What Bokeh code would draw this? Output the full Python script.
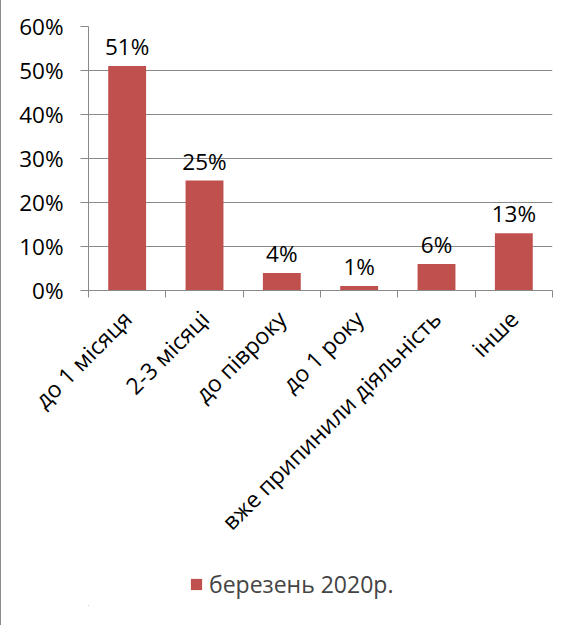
import math
from bokeh.plotting import figure
from bokeh.layouts import column
from bokeh.models import (ColumnDataSource, FixedTicker, Range1d, Legend, LegendItem,
                          NumeralTickFormatter)
from bokeh.core.properties import value
from bokeh.embed import file_html
from bokeh.resources import INLINE

categories = ["до 1 місяця", "2-3 місяці", "до півроку", "до 1 року",
              "вже припинили діяльність", "інше"]
values = [0.51, 0.25, 0.04, 0.01, 0.06, 0.13]
labels = ["51%", "25%", "4%", "1%", "6%", "13%"]
series_name = "березень 2020р."
y_ticks = [0, 0.1, 0.2, 0.3, 0.4, 0.5, 0.6]

FONT = "Open Sans"
RED = "#C0504D"
GRID = "#898989"
FS = "22.5px"
FS_CAT = "23px"

xpos = [i + 0.5 for i in range(len(categories))]
src = ColumnDataSource(dict(x=xpos, top=values, lab=labels))

p = figure(width=572, height=564, output_backend="svg", toolbar_location=None,
           x_range=Range1d(0, len(categories)), y_range=Range1d(0, 0.6),
           min_border_left=87, min_border_right=21, min_border_top=28,
           min_border_bottom=272)
p.outline_line_color = None
p.background_fill_color = "white"
p.border_fill_color = "white"

r = p.vbar(x="x", top="top", width=0.49, source=src, fill_color=RED, line_color=None)
p.text(x="x", y="top", text="lab", source=src, text_align="center",
       text_baseline="bottom", y_offset=-4, text_font=value(FONT),
       text_font_size=FS, text_color="black")

# y axis
ya = p.yaxis[0]
ya.ticker = FixedTicker(ticks=y_ticks)
ya.formatter = NumeralTickFormatter(format="0%")
ya.major_tick_out = 8
ya.major_tick_in = 0
ya.minor_tick_out = 0
ya.minor_tick_in = 0
ya.axis_line_color = GRID
ya.major_tick_line_color = GRID
ya.major_label_standoff = 17
ya.major_label_text_font = FONT
ya.major_label_text_font_size = FS
ya.major_label_text_color = "black"

# x axis: boundary ticks as minor ticks, category names at centres
xa = p.xaxis[0]
xa.ticker = FixedTicker(ticks=xpos, minor_ticks=list(range(len(categories) + 1)))
xa.major_label_overrides = {x: c for x, c in zip(xpos, categories)}
xa.major_tick_out = 0
xa.major_tick_in = 0
xa.minor_tick_out = 7
xa.minor_tick_in = 0
xa.minor_tick_line_color = GRID
xa.axis_line_color = GRID
xa.major_label_orientation = math.pi / 4
xa.major_label_standoff = 17
xa.major_label_text_font = FONT
xa.major_label_text_font_size = FS_CAT
xa.major_label_text_color = "black"

p.xgrid.grid_line_color = None
p.ygrid.grid_line_color = GRID
p.ygrid.ticker = FixedTicker(ticks=y_ticks)

# legend panel (the legend's renderer is kept outside its visible range)
lf = figure(width=572, height=63, output_backend="svg", toolbar_location=None,
            x_axis_location=None, y_axis_location=None,
            x_range=Range1d(10, 16), y_range=Range1d(2, 3),
            min_border_left=0, min_border_right=0, min_border_top=0,
            min_border_bottom=20)
lf.outline_line_color = None
lf.xgrid.grid_line_color = None
lf.ygrid.grid_line_color = None
lr = lf.vbar(x="x", top="top", width=0.49, source=src, fill_color=RED, line_color=None)
legend = Legend(items=[LegendItem(label=series_name, renderers=[lr])],
                location="left", padding=0, margin=101, spacing=0,
                glyph_width=14, glyph_height=14, label_height=14,
                label_standoff=6, border_line_color=None,
                background_fill_alpha=0,
                label_text_font=FONT, label_text_font_size=FS_CAT)
lf.add_layout(legend, "center")

layout = column(p, lf, spacing=0)
layout.styles = {"border-top": "2px solid #8c8c8c", "border-left": "2px solid #8c8c8c",
                 "margin-top": "-4px", "margin-left": "-1px"}

open("out.html", "w").write(file_html(layout, INLINE))
